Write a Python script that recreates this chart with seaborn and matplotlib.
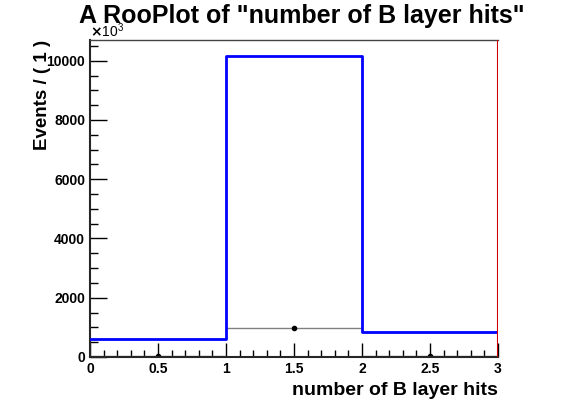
import numpy as np
import seaborn as sns
import matplotlib.pyplot as plt
from matplotlib.ticker import MultipleLocator

# bin edges and contents
bin_edges = [0, 1, 2, 3]
bin_centers = [0.5, 1.5, 2.5]
pdf_values = [600, 10150, 840]
data_values = [20, 990, 20]
x_err = [0.5, 0.5, 0.5]
x_ticks = [0, 0.5, 1, 1.5, 2, 2.5, 3]
x_tick_labels = ['0', '0.5', '1', '1.5', '2', '2.5', '3']

sns.set_style('ticks')
plt.rcParams['font.family'] = ['Liberation Sans', 'DejaVu Sans']
plt.rcParams['font.weight'] = 'bold'
plt.rcParams['text.color'] = 'black'
plt.rcParams['xtick.color'] = 'black'
plt.rcParams['ytick.color'] = 'black'
plt.rcParams['axes.labelcolor'] = 'black'

fig = plt.figure(figsize=(5.67, 4.07), dpi=100)
ax = fig.add_axes([90 / 567, 1 - 357 / 407, 408 / 567, 317 / 407])

# data points with x error bars
ax.errorbar(bin_centers, data_values, xerr=x_err, fmt='o', color='black',
            ecolor='grey', elinewidth=1, markersize=3, zorder=2)

# pdf as a step histogram
sns.histplot(x=bin_centers, weights=pdf_values, bins=bin_edges, element='step',
             fill=False, color='blue', linewidth=2, ax=ax, zorder=3)

ax.axvline(3, color='#cc0000', linewidth=1.5, zorder=4)

ax.set_xlim(0, 3)
ax.set_ylim(0, 10700)
ax.xaxis.set_minor_locator(MultipleLocator(0.1))
ax.yaxis.set_major_locator(MultipleLocator(2000))
ax.yaxis.set_minor_locator(MultipleLocator(500))
ax.tick_params(which='both', direction='in', top=False, right=False,
               labelsize=10, width=1)
ax.tick_params(axis='x', which='major', length=10)
ax.tick_params(axis='x', which='minor', length=5)
ax.tick_params(axis='y', which='major', length=12)
ax.tick_params(axis='y', which='minor', length=6)
ax.set_xticks(x_ticks)
ax.set_xticklabels(x_tick_labels, fontweight='bold')
ax.set_yticks([0, 2000, 4000, 6000, 8000, 10000])
ax.set_yticklabels(['0', '2000', '4000', '6000', '8000', '10000'], fontweight='bold')

ax.spines['left'].set_linewidth(1.5)
ax.spines['bottom'].set_linewidth(1.5)
ax.spines['top'].set_color('#444444')
ax.spines['top'].set_linewidth(1)
ax.spines['right'].set_visible(False)

ax.set_xlabel('number of B layer hits', fontsize=14, fontweight='bold', loc='right')
ax.xaxis.set_label_coords(1.0, -0.08)
ax.set_ylabel('Events / ( 1 )', fontsize=13.5, fontweight='bold', loc='top')
ax.yaxis.set_label_coords(-0.095, 1.0)
ax.text(0.0, 1.0, r'$\times\mathregular{10^{3}}$', transform=ax.transAxes,
        fontsize=10, fontweight='normal', va='bottom', ha='left')
fig.text(302 / 567, 0.99, 'A RooPlot of "number of B layer hits"', ha='center',
         va='top', fontsize=18, fontweight='bold')

plt.savefig('out.png', dpi=100)
